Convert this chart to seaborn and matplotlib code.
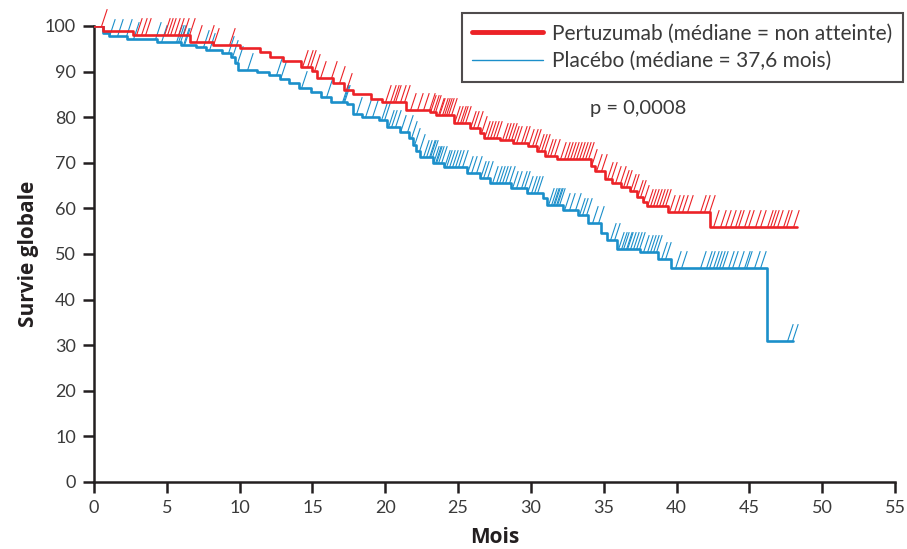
import numpy as np
import pandas as pd
import matplotlib
matplotlib.use("Agg")
import matplotlib.pyplot as plt
from matplotlib.path import Path
from matplotlib.lines import Line2D
import seaborn as sns

# Kaplan-Meier step functions: time (months) at which each level starts, survival (%)
pertuzumab_t = [0, 0.6, 2.7, 6.6, 8.2, 10.0, 11.4, 12.1, 13.0, 14.2, 15.0, 15.3, 16.4,
                17.2, 17.8, 19.0, 19.8, 21.4, 23.1, 23.5, 24.7, 25.8, 26.5, 26.8, 27.9,
                28.8, 29.8, 30.4, 31.0, 31.8, 34.1, 34.4, 35.1, 35.6, 36.2, 36.8, 37.3,
                37.7, 38.0, 39.4, 42.3, 48.3]
pertuzumab_s = [100, 98.9, 98.0, 96.6, 95.8, 95.1, 94.4, 93.3, 92.4, 91.1, 90.2, 88.5, 87.4,
                86.0, 85.1, 84.0, 83.4, 81.6, 81.1, 80.5, 78.7, 77.6, 76.5, 75.4, 75.0,
                74.4, 73.6, 72.6, 71.6, 70.8, 69.4, 68.2, 66.4, 65.6, 64.8, 63.8, 62.5,
                61.4, 60.5, 59.2, 55.9, 55.9]

placebo_t = [0, 0.6, 1.0, 2.3, 4.3, 6.0, 7.0, 7.7, 8.8, 9.4, 9.7, 9.9, 11.2, 12.0, 12.8,
             13.4, 14.1, 14.9, 15.6, 16.3, 17.4, 17.8, 18.4, 19.6, 20.1, 21.0, 21.6, 21.9,
             22.1, 22.4, 23.3, 24.0, 25.6, 26.5, 27.2, 28.6, 29.7, 30.8, 31.1, 32.2, 33.2,
             33.9, 34.8, 35.2, 35.9, 37.5, 38.7, 39.6, 46.2, 48.0]
placebo_s = [100, 98.4, 97.7, 97.1, 96.5, 95.8, 95.3, 94.7, 94.0, 93.1, 91.8, 90.4, 90.0,
             89.3, 88.3, 87.4, 86.5, 85.6, 84.5, 83.4, 82.9, 80.8, 80.1, 79.4, 77.9, 76.8,
             75.4, 74.0, 72.6, 71.3, 70.0, 69.1, 67.8, 66.7, 65.5, 64.5, 63.4, 62.2, 60.7,
             59.6, 58.6, 56.7, 54.5, 53.1, 51.2, 50.5, 49.0, 46.9, 31.0, 31.0]

# Censored observations (months)
pertuzumab_cens = [0.5, 2.9, 3.2, 3.5, 4.8, 5.0, 5.2, 5.5, 5.8, 6.1, 6.5, 7.0, 7.8, 8.2, 9.3,
                   14.3, 14.6, 14.8, 15.1, 15.5, 16.3, 16.8, 17.3, 20.0, 20.3, 20.5, 20.7,
                   21.0, 21.3, 21.7, 22.2, 22.6, 23.0, 23.1, 23.3, 23.4, 23.6, 23.7, 23.9,
                   24.0, 24.2, 24.3, 24.5, 24.7, 24.9, 25.1, 25.3, 25.5, 25.8, 26.0, 26.3,
                   26.6, 26.8, 27.0, 27.2, 27.4, 27.6, 28.0, 28.2, 28.4, 28.6, 28.8, 29.0,
                   29.3, 29.5, 29.8, 30.1, 30.3, 30.5, 30.7, 30.9, 31.1, 31.3, 31.6, 32.0,
                   32.3, 32.5, 32.7, 32.9, 33.1, 33.3, 33.5, 33.7, 33.9, 34.1, 34.5, 34.8,
                   35.2, 35.5, 35.8, 36.1, 36.3, 36.5, 36.8, 37.0, 37.3, 37.5, 37.7, 38.0,
                   38.2, 38.4, 38.6, 38.8, 39.0, 39.2, 39.5, 39.8, 40.1, 40.4, 40.7, 41.6,
                   41.9, 42.2, 42.5, 43.0, 43.3, 43.7, 44.0, 44.2, 44.6, 44.9, 45.4, 45.7,
                   46.2, 46.4, 46.6, 46.9, 47.3, 47.5, 48.0]
placebo_cens = [1.0, 1.6, 2.2, 2.7, 4.2, 4.6, 5.6, 5.8, 5.9, 6.1, 6.2, 7.5, 7.9, 9.2, 9.5,
                9.8, 10.5, 12.5, 12.8, 14.2, 15.9, 17.0, 17.1, 17.2, 18.0, 18.6, 19.1, 19.7,
                19.9, 20.2, 20.4, 20.7, 21.0, 21.5, 21.8, 22.0, 22.3, 22.6, 22.8, 23.0,
                23.1, 23.2, 23.3, 23.4, 23.5, 23.6, 23.8, 24.0, 24.2, 24.4, 24.6, 24.8,
                25.0, 25.3, 25.6, 25.9, 26.2, 26.5, 26.7, 27.0, 27.3, 27.6, 27.8, 28.0,
                28.2, 28.5, 28.7, 29.0, 29.3, 29.5, 29.7, 30.0, 30.2, 30.4, 31.2, 31.4,
                31.5, 31.6, 31.7, 31.8, 31.9, 32.3, 32.6, 33.0, 33.3, 33.5, 33.8, 34.2,
                34.6, 35.4, 35.7, 36.0, 36.2, 36.3, 36.5, 36.6, 36.8, 37.0, 37.2, 37.4,
                37.7, 38.0, 38.2, 38.4, 38.6, 38.9, 39.2, 39.9, 40.3, 41.6, 42.0, 42.2,
                42.5, 42.7, 42.9, 43.1, 43.5, 43.8, 44.2, 44.6, 44.8, 45.3, 45.7, 47.6,
                47.9]

labels = ["Pertuzumab (médiane = non atteinte)", "Placébo (médiane = 37,6 mois)"]
x_ticks = [0, 5, 10, 15, 20, 25, 30, 35, 40, 45, 50, 55]
y_ticks = [0, 10, 20, 30, 40, 50, 60, 70, 80, 90, 100]
p_text = "p = 0,0008"

RED = "#EC2227"
BLUE = "#1B8FCA"
INK = "#231F20"
TXT = "#3a3a3a"

sns.set_style("ticks")
plt.rcParams["font.family"] = ["Lato", "DejaVu Sans"]

fig = plt.figure(figsize=(9.07, 5.49), dpi=100)
ax = fig.add_axes([94 / 907, 1 - 482 / 549, (895 - 94) / 907, (482 - 26) / 549])

# slanted censor tick, anchored at its lower end
tick_path = Path([(0.0, 0.0), (0.33, 1.0)], [Path.MOVETO, Path.LINETO])


def level_at(times, surv, t):
    idx = np.searchsorted(np.asarray(times), np.asarray(t), side="right") - 1
    return np.asarray(surv)[idx]


for t, s, c, col in [(placebo_t, placebo_s, placebo_cens, BLUE),
                     (pertuzumab_t, pertuzumab_s, pertuzumab_cens, RED)]:
    df = pd.DataFrame({"mois": t, "survie": s})
    sns.lineplot(data=df, x="mois", y="survie", ax=ax, color=col, lw=1.9,
                 drawstyle="steps-post", estimator=None, sort=False, zorder=3)
    ax.plot(c, level_at(t, s, c), ls="none", marker=tick_path, markersize=25,
            markeredgewidth=0.8, markeredgecolor=col, color=col, clip_on=False,
            zorder=2)

ax.set_xlim(0, 55)
ax.set_ylim(0, 100)
ax.set_xticks(x_ticks)
ax.set_yticks(y_ticks)
ax.tick_params(axis="both", length=8, width=1.8, color=INK, labelsize=13,
               labelcolor=TXT, pad=5)
for side in ["left", "bottom"]:
    ax.spines[side].set_linewidth(1.8)
    ax.spines[side].set_color(INK)
sns.despine(ax=ax)

ax.set_xlabel("Mois", fontsize=15, fontweight="bold", color=INK, labelpad=8,
              family=["Open Sans", "DejaVu Sans"])
ax.set_ylabel("Survie globale", fontsize=15, fontweight="bold", color=INK, labelpad=4,
              family=["Open Sans", "DejaVu Sans"])

ax.text(37.4, 82.0, p_text, fontsize=14.5, color=TXT, ha="center", va="center")

handles = [Line2D([], [], color=RED, lw=3.5), Line2D([], [], color=BLUE, lw=1.0)]
leg = ax.legend(handles, labels, loc="upper right",
                bbox_to_anchor=(903 / 907, 1 - 13 / 549), bbox_transform=fig.transFigure,
                borderaxespad=0, frameon=True, fancybox=False, fontsize=15,
                handlelength=3.4, handletextpad=0.45, labelspacing=0.38,
                borderpad=0.5)
leg.get_frame().set_edgecolor(INK)
leg.get_frame().set_linewidth(1.5)
for txt in leg.get_texts():
    txt.set_color(TXT)

fig.savefig("out.png", dpi=100)
